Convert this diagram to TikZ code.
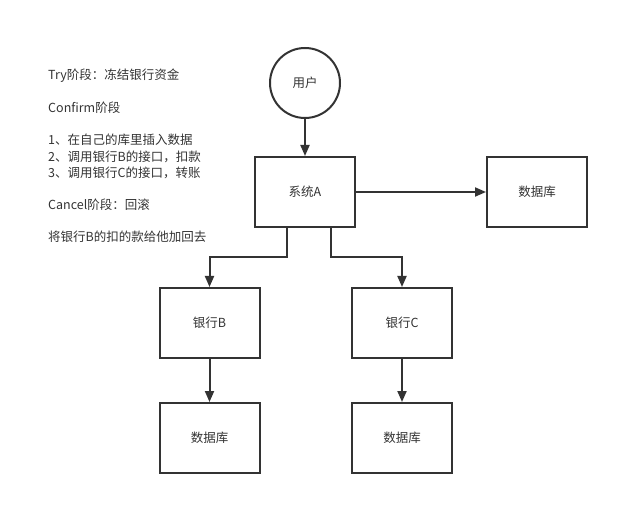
\documentclass[tikz,border=0pt]{standalone}
\usepackage{fontspec}
\setmainfont{Noto Sans CJK SC}
\usetikzlibrary{arrows.meta}
\definecolor{ink}{HTML}{333333}
\begin{document}
\begin{tikzpicture}[x=1pt,y=-1pt,
  every node/.style={font=\fontsize{12.5}{14}\selectfont, text=ink},
  boxnode/.style={draw=ink, line width=2pt, minimum width=100pt, minimum height=70pt, inner sep=0pt},
  circnode/.style={draw=ink, line width=2pt, circle, minimum size=70pt, inner sep=0pt},
  conn/.style={draw=ink, line width=2pt, -{Triangle[length=11pt,width=9pt]}},
  txt/.style={anchor=west, inner sep=0pt}]
\useasboundingbox (0,0) rectangle (619,505);
\node[circnode] (user) at (305,83) {用户};
\node[boxnode] (sysA) at (305,192) {系统A};
\node[boxnode] (db1) at (537,192) {数据库};
\node[boxnode] (bankB) at (209.5,323) {银行B};
\node[boxnode] (bankC) at (402,323) {银行C};
\node[boxnode] (db2) at (209.5,438) {数据库};
\node[boxnode] (db3) at (402,438) {数据库};
\draw[conn] (user) -- (sysA);
\draw[conn] (sysA) -- (db1);
\draw[conn] ([xshift=-18pt]sysA.south) |- (250,257) -| (bankB.north);
\draw[conn] ([xshift=26pt]sysA.south) |- (350,257) -| (bankC.north);
\draw[conn] (bankB) -- (db2);
\draw[conn] (bankC) -- (db3);
\node[txt] (t1) at (48,76) {Try阶段：冻结银行资金};
\node[txt] (t2) at (48,108) {Confirm阶段};
\node[txt] (t3) at (48,140) {1、在自己的库里插入数据};
\node[txt] (t4) at (48,157) {2、调用银行B的接口，扣款};
\node[txt] (t5) at (48,173) {3、调用银行C的接口，转账};
\node[txt] (t6) at (48,205) {Cancel阶段：回滚};
\node[txt] (t7) at (48,237) {将银行B的扣的款给他加回去};
\end{tikzpicture}
\end{document}
